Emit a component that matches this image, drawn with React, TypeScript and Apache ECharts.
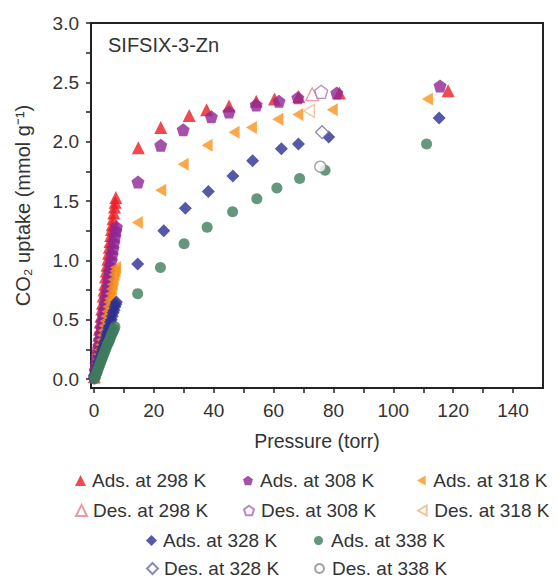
import React, { useEffect, useRef } from "react";
import * as echarts from "echarts";

const xTickValues = [0, 10, 20, 30, 40, 50, 60, 70, 80, 90, 100, 110, 120, 130, 140];
const xLabelValues = [0, 20, 40, 60, 80, 100, 120, 140];
const yTickValues = [0, 0.25, 0.5, 0.75, 1, 1.25, 1.5, 1.75, 2, 2.25, 2.5, 2.75, 3];
const yLabelValues = [0, 0.5, 1, 1.5, 2, 2.5, 3];

const ads298 = [
  [0.1, 0.02], [0.35, 0.08], [0.6, 0.14], [0.85, 0.2], [1.1, 0.26], [1.35, 0.31], [1.6, 0.37],
  [1.85, 0.42], [2.1, 0.48], [2.35, 0.53], [2.6, 0.59], [2.85, 0.64], [3.1, 0.7], [3.35, 0.75],
  [3.6, 0.8], [3.85, 0.86], [4.1, 0.91], [4.35, 0.96], [4.6, 1.01], [4.85, 1.06], [5.1, 1.11],
  [5.35, 1.16], [5.6, 1.21], [5.85, 1.26], [6.1, 1.3], [6.35, 1.35], [6.6, 1.4], [6.85, 1.45],
  [7.1, 1.49], [7.3, 1.53],
  [14.8, 1.95], [22.3, 2.12], [31.8, 2.22], [37.6, 2.27], [45.1, 2.3], [54.2, 2.34], [60.3, 2.36],
  [68.4, 2.38], [82.0, 2.41], [118.3, 2.43],
];
const ads308 = [
  [0.1, 0.02], [0.4, 0.07], [0.7, 0.12], [1.0, 0.18], [1.3, 0.23], [1.6, 0.28], [1.9, 0.33],
  [2.2, 0.38], [2.5, 0.43], [2.8, 0.48], [3.1, 0.53], [3.4, 0.58], [3.7, 0.63], [4.0, 0.68],
  [4.3, 0.73], [4.6, 0.78], [4.9, 0.84], [5.2, 0.9], [5.5, 0.95], [5.8, 1.0], [6.1, 1.05],
  [6.4, 1.1], [6.7, 1.15], [7.0, 1.2], [7.3, 1.25], [7.5, 1.28],
  [14.7, 1.66], [22.3, 1.97], [29.8, 2.1], [39.2, 2.21], [45.1, 2.25], [54.2, 2.31], [61.8, 2.34],
  [68.1, 2.37], [81.1, 2.41], [115.6, 2.47],
];
const ads318 = [
  [0.1, 0.01], [0.4, 0.05], [0.7, 0.09], [1.0, 0.13], [1.3, 0.17], [1.6, 0.21], [1.9, 0.25],
  [2.2, 0.29], [2.5, 0.33], [2.8, 0.37], [3.1, 0.41], [3.4, 0.45], [3.7, 0.49], [4.0, 0.53],
  [4.3, 0.57], [4.6, 0.61], [4.9, 0.65], [5.2, 0.68], [5.5, 0.72], [5.8, 0.76], [6.1, 0.8],
  [6.4, 0.84], [6.7, 0.88], [7.0, 0.91], [7.2, 0.94],
  [14.5, 1.32], [22.3, 1.59], [29.8, 1.81], [37.8, 1.97], [46.8, 2.08], [52.6, 2.12], [61.4, 2.19],
  [68.1, 2.23], [79.6, 2.27], [111.4, 2.36],
];
const ads328 = [
  [0.1, 0.01], [0.4, 0.04], [0.7, 0.06], [1.0, 0.09], [1.3, 0.12], [1.6, 0.14], [1.9, 0.17],
  [2.2, 0.19], [2.5, 0.22], [2.8, 0.25], [3.1, 0.27], [3.4, 0.3], [3.7, 0.32], [4.0, 0.35],
  [4.3, 0.38], [4.6, 0.4], [4.9, 0.43], [5.2, 0.45], [5.5, 0.48], [5.8, 0.5], [6.1, 0.53],
  [6.4, 0.56], [6.7, 0.58], [7.0, 0.61], [7.3, 0.63], [7.5, 0.65],
  [14.6, 0.97], [23.3, 1.25], [30.5, 1.44], [38.2, 1.58], [46.4, 1.71], [53.0, 1.84], [62.6, 1.94],
  [68.3, 1.98], [78.4, 2.04], [115.3, 2.2],
];
const ads338 = [
  [0.1, 0.0], [0.4, 0.02], [0.7, 0.04], [1.0, 0.06], [1.3, 0.08], [1.6, 0.1], [1.9, 0.12],
  [2.2, 0.14], [2.5, 0.16], [2.8, 0.18], [3.1, 0.2], [3.4, 0.22], [3.7, 0.24], [4.0, 0.26],
  [4.3, 0.28], [4.6, 0.3], [4.9, 0.31], [5.2, 0.33], [5.5, 0.35], [5.8, 0.37], [6.1, 0.39],
  [6.4, 0.4], [6.7, 0.42], [7.0, 0.44],
  [14.6, 0.72], [22.2, 0.94], [30.1, 1.14], [37.8, 1.28], [46.3, 1.41], [54.4, 1.52], [61.1, 1.61],
  [68.7, 1.69], [77.2, 1.76], [111.1, 1.98],
];
const des298 = [[72.9, 2.4]];
const des308 = [[75.9, 2.42]];
const des318 = [[71.8, 2.26]];
const des328 = [[76.2, 2.08]];
const des338 = [[75.6, 1.79]];

const PENTAGON = "path://M50,0 L97.6,34.5 L79.4,90.5 L20.6,90.5 L2.4,34.5 Z";
const LEFT_TRI = "path://M0,50 L86.6,0 L86.6,100 Z";

const FONT = "'Liberation Sans', Arial, sans-serif";
const TEXT = "#333";

export default function App() {
  const ref = useRef<HTMLDivElement>(null);
  useEffect(() => {
    if (!ref.current) return;
    const chart = echarts.init(ref.current, undefined, { renderer: "svg" });

    const specs = [
      { name: "Ads. at 298 K", data: ads298, symbol: "triangle", size: 13, color: "#ec1c24", hollow: false, leg: [75, 471], icon: 11 },
      { name: "Ads. at 308 K", data: ads308, symbol: PENTAGON, size: 13, color: "#8e2593", hollow: false, leg: [243, 471], icon: 10 },
      { name: "Ads. at 318 K", data: ads318, symbol: LEFT_TRI, size: [11, 13], color: "#f7941d", hollow: false, leg: [417, 471], icon: 10 },
      { name: "Ads. at 328 K", data: ads328, symbol: "diamond", size: 13, color: "#2b2f92", hollow: false, leg: [146, 531], icon: 11 },
      { name: "Ads. at 338 K", data: ads338, symbol: "circle", size: 11, color: "#3f7c5e", hollow: false, leg: [314, 531], icon: 9 },
      { name: "Des. at 298 K", data: des298, symbol: "triangle", size: 13, color: "#e9808a", hollow: true, leg: [75, 501], icon: 11 },
      { name: "Des. at 308 K", data: des308, symbol: PENTAGON, size: 13, color: "#a56bb0", hollow: true, leg: [243, 501], icon: 10 },
      { name: "Des. at 318 K", data: des318, symbol: LEFT_TRI, size: [11, 13], color: "#f2b47a", hollow: true, leg: [417, 501], icon: 10 },
      { name: "Des. at 328 K", data: des328, symbol: "diamond", size: 13, color: "#6d6aa6", hollow: true, leg: [146, 559], icon: 11 },
      { name: "Des. at 338 K", data: des338, symbol: "circle", size: 11, color: "#8a8a8a", hollow: true, leg: [314, 559], icon: 9 },
    ];

    const series = specs.map((s) => ({
      name: s.name,
      type: "scatter",
      data: s.data,
      symbol: s.symbol,
      symbolSize: s.size,
      itemStyle: s.hollow
        ? { color: "#ffffff", borderColor: s.color, borderWidth: 1.3 }
        : { color: s.color, borderWidth: 0 },
    }));

    const legends = specs.map((s) => ({
      data: [s.name],
      left: s.leg[0],
      top: s.leg[1],
      padding: 0,
      itemWidth: s.icon,
      itemHeight: s.icon,
      itemGap: 0,
      textStyle: { fontSize: 19, color: TEXT, fontFamily: FONT, padding: [0, 0, 0, 12 - s.icon] },
      selectedMode: false,
    }));

    chart.setOption({
      animation: false,
      title: {
        text: "SIFSIX-3-Zn",
        left: 108,
        top: 35,
        padding: 0,
        textStyle: { fontSize: 20, fontWeight: "normal", color: TEXT, fontFamily: FONT },
      },
      legend: legends,
      grid: {
        left: 91,
        right: 15,
        top: 23,
        bottom: 192,
        show: true,
        borderColor: "#222",
        borderWidth: 2,
        backgroundColor: "transparent",
      },
      xAxis: {
        type: "value",
        min: -1,
        max: 150,
        name: "Pressure (torr)",
        nameLocation: "middle",
        nameGap: 43,
        nameTextStyle: { fontSize: 19.5, color: TEXT, fontFamily: FONT },
        axisLine: { show: true, onZero: false, lineStyle: { color: "#222", width: 2 } },
        axisTick: { show: true, length: 5, customValues: xTickValues, lineStyle: { color: "#222", width: 1.5 } },
        axisLabel: { customValues: xLabelValues, margin: 13, fontSize: 19, color: TEXT, fontFamily: FONT },
        splitLine: { show: false },
      },
      yAxis: {
        type: "value",
        min: -0.075,
        max: 3.0,
        name: "CO₂ uptake (mmol g⁻¹)",
        nameLocation: "middle",
        nameGap: 58,
        nameTextStyle: { fontSize: 20, color: TEXT, fontFamily: FONT },
        axisLine: { show: true, onZero: false, lineStyle: { color: "#222", width: 2 } },
        axisTick: { show: true, length: 5, customValues: yTickValues, lineStyle: { color: "#222", width: 1.5 } },
        axisLabel: {
          customValues: yLabelValues,
          margin: 12,
          fontSize: 19,
          color: TEXT,
          fontFamily: FONT,
          formatter: (v: number) => v.toFixed(1),
        },
        splitLine: { show: false },
      },
      series,
    });

    return () => chart.dispose();
  }, []);

  return (
    <div
      ref={ref}
      style={{ position: "fixed", left: 0, top: 0, width: 558, height: 580, background: "#fff" }}
    />
  );
}
